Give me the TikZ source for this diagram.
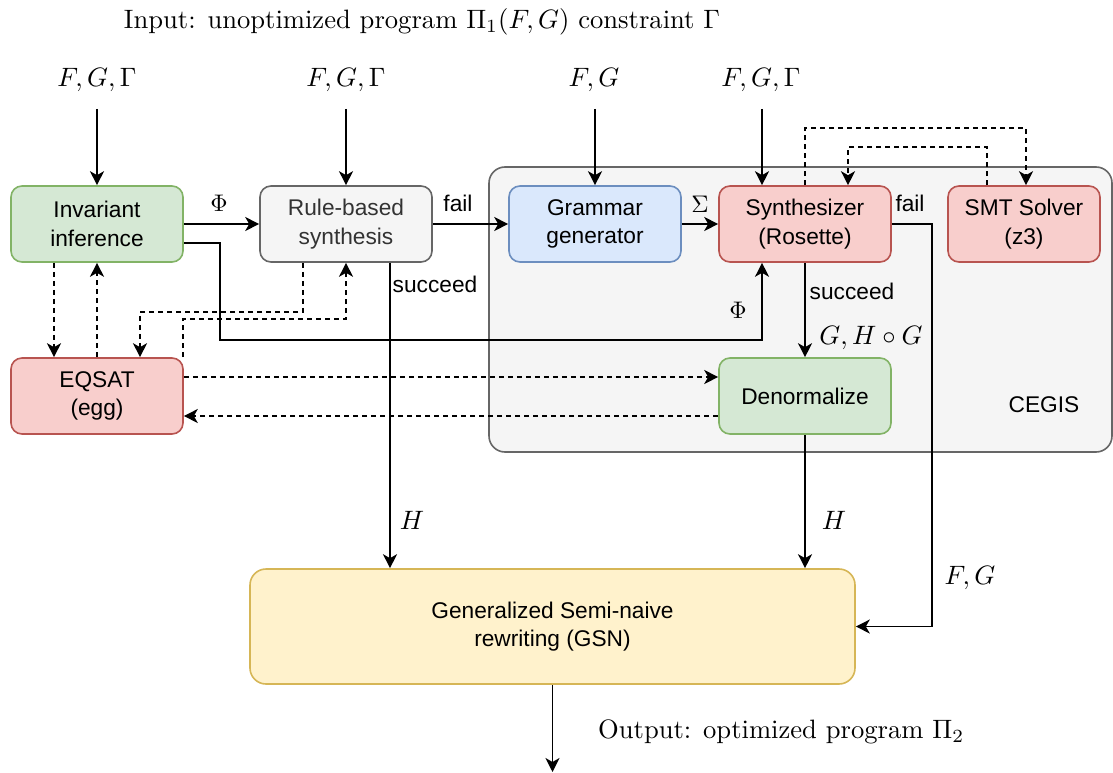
\RequirePackage{fix-cm}
\documentclass[tikz,border=0pt]{standalone}
\usepackage{fontspec}
\newfontfamily\arialfam{Liberation Sans}
\usetikzlibrary{arrows.meta,calc}
\definecolor{gfill}{HTML}{D5E8D4}\definecolor{gdraw}{HTML}{82B366}
\definecolor{sfill}{HTML}{F5F5F5}\definecolor{sdraw}{HTML}{666666}\definecolor{stext}{HTML}{333333}
\definecolor{bfill}{HTML}{DAE8FC}\definecolor{bdraw}{HTML}{6C8EBF}
\definecolor{rfill}{HTML}{F8CECC}\definecolor{rdraw}{HTML}{B85450}
\definecolor{yfill}{HTML}{FFF2CC}\definecolor{ydraw}{HTML}{D6B656}
\newcommand\myboxfont{\arialfam\fontsize{22.7}{28.5}\selectfont}
\newcommand\mbig[1]{\scalebox{2.66}{\fontsize{10}{12}\selectfont #1}}
\newcommand\msmall[1]{\scalebox{2.4}{\fontsize{10}{12}\selectfont #1}}
\tikzset{
  box/.style={draw, rounded corners=11pt, line width=1.6pt, minimum width=172pt, minimum height=76pt, align=center, font=\myboxfont, inner sep=0pt},
  arr/.style={line width=1.6pt, -{Stealth[length=14pt,width=14pt,inset=4pt]}},
  darr/.style={arr, dash pattern=on 5pt off 4pt},
  mlbl/.style={inner sep=0pt},
  tlbl/.style={font=\myboxfont, inner sep=0pt},
}
\begin{document}
\begin{tikzpicture}[x=1pt,y=-1pt]
\useasboundingbox (0,0) rectangle (1113,773);
% CEGIS container
\node[draw=sdraw, fill=sfill, line width=1.6pt, rounded corners=16pt, minimum width=623pt, minimum height=285pt, inner sep=0pt] (cegis) at (800.5,309.5) {};
\node[tlbl] (cegislbl) at (1044,405) {CEGIS};
% boxes
\node[box, fill=gfill, draw=gdraw] (inv) at (97,224) {Invariant\\inference};
\node[box, fill=sfill, draw=sdraw, text=stext] (rule) at (346,224) {Rule-based\\synthesis};
\node[box, fill=bfill, draw=bdraw] (gram) at (595,224) {Grammar\\generator};
\node[box, fill=rfill, draw=rdraw] (syn) at (805,224) {Synthesizer\\(Rosette)};
\node[box, fill=rfill, draw=rdraw, minimum width=152pt] (smt) at (1024,224) {SMT Solver\\(z3)};
\node[box, fill=rfill, draw=rdraw] (eq) at (97,396) {EQSAT\\(egg)};
\node[box, fill=gfill, draw=gdraw] (den) at (805,396) {Denormalize};
\node[box, fill=yfill, draw=ydraw, minimum width=605pt, minimum height=115pt, rounded corners=16pt] (gsn) at (552.5,626.5) {Generalized Semi-naive\\rewriting (GSN)};
% top texts
\node[mlbl] (intext) at (422,22) {\mbig{Input: unoptimized program $\Pi_1(F,G)$ constraint $\Gamma$}};
\node[mlbl] (in1) at (97,80) {\mbig{$F,G,\Gamma$}};
\node[mlbl] (in2) at (346,80) {\mbig{$F,G,\Gamma$}};
\node[mlbl] (in3) at (594,80) {\mbig{$F,G$}};
\node[mlbl] (in4) at (761,80) {\mbig{$F,G,\Gamma$}};
\coordinate (s1) at (97,109);
\coordinate (s2) at (346,109);
\coordinate (s3) at (595,109);
\coordinate (s4) at (762,109);
\draw[arr] (s1) -- (inv.north);
\draw[arr] (s2) -- (rule.north);
\draw[arr] (s3) -- (gram.north);
\draw[arr] (s4) -- (s4 |- syn.north);
% solid connectors
\draw[arr] (inv.east) -- (rule.west);
\node[mlbl] (phi1) at (219,203) {\msmall{$\Phi$}};
\draw[arr] ($(inv.east)+(0,19)$) -- (220,243) -- (220,340) -- (762,340) -- (s4 |- syn.south);
\node[mlbl] (phi2) at (738,310) {\msmall{$\Phi$}};
\draw[arr] (rule.east) -- (gram.west);
\node[tlbl] (fail1) at (458,203) {fail};
\draw[arr] (gram.east) -- (syn.west);
\node[mlbl] (sigma) at (700,204) {\msmall{$\Sigma$}};
\coordinate (rx) at (390,0);
\draw[arr] (rule.south -| rx) -- (gsn.north -| rx);
\node[tlbl] (succ1) at (435,284) {succeed};
\node[mlbl] (h1) at (412,520) {\mbig{$H$}};
\draw[arr] (syn.south) -- (den.north);
\node[tlbl] (succ2) at (852,291) {succeed};
\node[mlbl] (ghg) at (871,338) {\mbig{$G,H\circ G$}};
\draw[arr] (den.south) -- (gsn.north -| den.south);
\node[mlbl] (h2) at (834,520) {\mbig{$H$}};
\draw[arr] (syn.east) -| ($(gsn.east)+(76,0)$) -- (gsn.east);
\node[tlbl] (fail2) at (910,203) {fail};
\node[mlbl] (fg) at (970,578) {\mbig{$F,G$}};
\coordinate (outend) at (552.5,772);
\draw[arr] (gsn.south) -- (outend);
\node[mlbl, anchor=west] (outtext) at (598,732) {\mbig{Output: optimized program $\Pi_2$}};
% dashed connectors
\draw[darr] ($(inv.south)+(-43,0)$) -- ($(eq.north)+(-43,0)$);
\draw[darr] (eq.north) -- (inv.south);
\draw[darr] ($(rule.south)+(-43,0)$) -- ++(0,49) -| ($(eq.north)+(43,0)$);
\draw[darr] ($(eq.north)+(86,0)$) -- ++(0,-38) -| (rule.south);
\draw[darr] ($(eq.east)+(0,-19)$) -- ($(den.west)+(0,-19)$);
\draw[darr] ($(den.west)+(0,20)$) -- ($(eq.east)+(0,20)$);
\draw[darr] (syn.north) -- ++(0,-57) -| ($(smt.north)+(2,0)$);
\draw[darr] ($(smt.north)+(-37,0)$) -- ++(0,-38) -| ($(syn.north)+(43,0)$);
\end{tikzpicture}
\end{document}
